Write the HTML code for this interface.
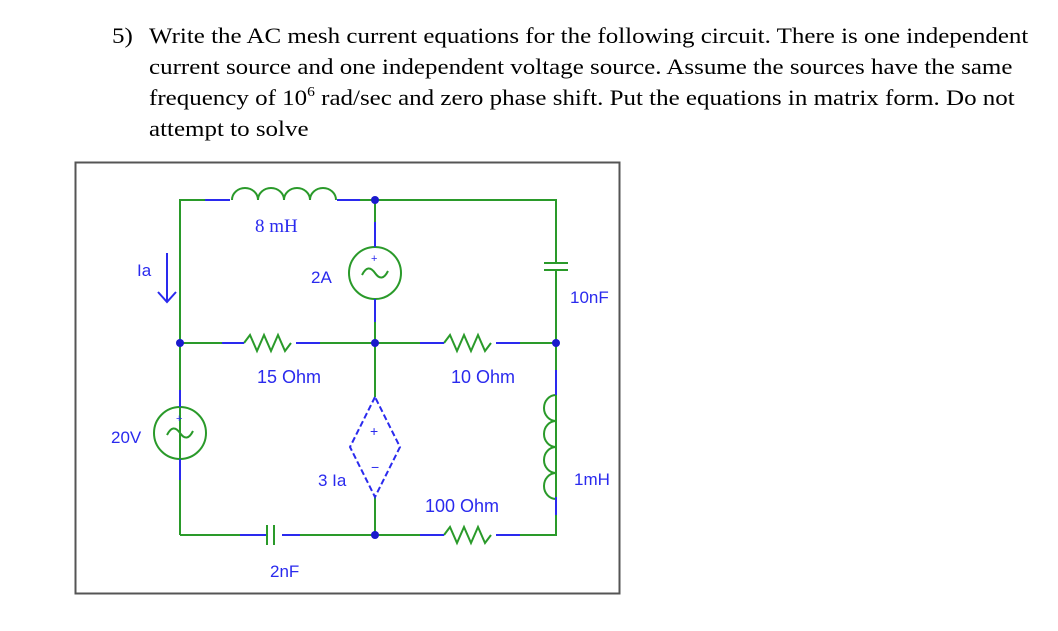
<!DOCTYPE html>
<html><head><style>
body{margin:0;background:#fff;width:1058px;height:631px;overflow:hidden;position:relative;font-family:"Liberation Serif",serif;}
.t{position:absolute;font-size:22.5px;color:#000;white-space:nowrap;transform:scaleX(1.11);transform-origin:0 0;}
</style></head><body>
<div class="t" style="left:112px;top:23px">5)</div>
<div class="t" style="left:149px;top:23px">Write the AC mesh current equations for the following circuit. There is one independent</div>
<div class="t" style="left:149px;top:54px">current source and one independent voltage source. Assume the sources have the same</div>
<div class="t" style="left:149px;top:85px">frequency of 10<sup style="font-size:14px;vertical-align:9px;line-height:0">6</sup> rad/sec and zero phase shift. Put the equations in matrix form. Do not</div>
<div class="t" style="left:149px;top:116px">attempt to solve</div>
<svg style="position:absolute;left:0;top:0" width="1058" height="631">
<rect x="75.5" y="162.5" width="544" height="431" fill="none" stroke="#555" stroke-width="2"/>
<g stroke="#2a9a2a" stroke-width="2" fill="none">
<path d="M180 535 V200 H230 M337 200 H556 V535 H500 M440 535 H282 M266 535 H180"/>
<path d="M180 343 H244 M296 343 H444 M496 343 H556"/>
<path d="M375 200 V247 M375 299 V397 M375 497 V535"/>
<path d="M232 200 a13 12 0 0 1 26 0 a13 12 0 0 1 26 0 a13 12 0 0 1 26 0 a13 12 0 0 1 26 0"/>
<path d="M556 395 a12 13 0 0 0 0 26 a12 13 0 0 0 0 26 a12 13 0 0 0 0 26 a12 13 0 0 0 0 26"/>
<path d="M244 343 l6 -8 l7 16 l7 -16 l7 16 l7 -16 l7 16 l6 -8"/>
<path d="M444 343 l6 -8 l7 16 l7 -16 l7 16 l7 -16 l7 16 l6 -8"/>
<path d="M444 535 l6 -8 l7 16 l7 -16 l7 16 l7 -16 l7 16 l6 -8"/>
<circle cx="375" cy="273" r="26"/>
<circle cx="180" cy="433" r="26"/>
<path d="M362 275 q6 -12 13 -2 q7 10 13 -2"/>
<path d="M167 435 q6 -12 13 -2 q7 10 13 -2"/>
</g>
<g fill="#fff" stroke="none"><rect x="549" y="263" width="14" height="7"/><rect x="267" y="528" width="7" height="14"/></g>
<g stroke="#2a9a2a" stroke-width="2"><path d="M544 263 H568 M544 270 H568 M267 525 V545 M274 525 V545"/></g>
<g stroke="#2a2aee" stroke-width="2" fill="none">
<path d="M205 200 H230 M337 200 H360 M375 222 V247 M375 299 V322 M222 343 H244 M296 343 H320 M420 343 H444 M496 343 H520 M556 370 V395 M556 497 V515 M180 390 V407 M180 459 V480 M240 535 H266 M282 535 H300 M420 535 H444 M496 535 H520"/>
<path d="M375 397 L350 447 L375 497 L400 447 Z" stroke-dasharray="6 3"/>
<path d="M167 253 V302 M158 292 L167 302 L176 292"/>
</g>
<g fill="#1a1acc"><circle cx="375" cy="200" r="4"/><circle cx="180" cy="343" r="4"/><circle cx="375" cy="343" r="4"/><circle cx="556" cy="343" r="4"/><circle cx="375" cy="535" r="4"/></g>
<g font-family="Liberation Sans,sans-serif" font-size="17" fill="#2a2aee">
<text x="255" y="232" font-family="Liberation Serif,serif" font-size="19">8 mH</text>
<text x="137" y="276">Ia</text>
<text x="311" y="283">2A</text>
<text x="570" y="303">10nF</text>
<text x="257" y="383" font-size="18">15 Ohm</text>
<text x="451" y="383" font-size="18">10 Ohm</text>
<text x="111" y="443">20V</text>
<text x="318" y="486">3 Ia</text>
<text x="574" y="485">1mH</text>
<text x="425" y="512" font-size="18">100 Ohm</text>
<text x="270" y="577">2nF</text>
<text x="370" y="436" font-size="14">+</text>
<text x="371" y="472" font-size="14">−</text>
<text x="371" y="262" font-size="11">+</text>
<text x="176" y="422" font-size="11">+</text>
</g>
</svg>
</body></html>
